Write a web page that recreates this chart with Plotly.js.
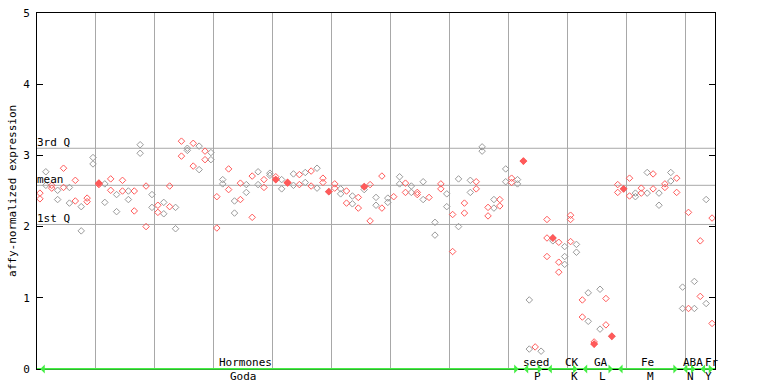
<!DOCTYPE html>
<html>
<head>
<meta charset="utf-8">
<script src="https://cdn.plot.ly/plotly-3.0.1.min.js"></script>
<style>html,body{margin:0;padding:0;background:#fff;}#chart{width:768px;height:384px;}</style>
</head>
<body>
<div id="chart"></div>
<script>
// Replicate values per sample (sample i drawn at position i + 0.5)
const rep1 = [2.47,2.77,2.58,2.51,2.82,2.55,2.65,2.28,2.40,2.97,
  2.61,2.60,2.67,2.45,2.65,2.50,2.50,3.15,2.57,2.45,
  2.30,2.34,2.57,2.27,3.20,3.10,3.17,3.13,3.06,3.04,
  2.42,2.66,2.81,2.36,2.61,2.59,2.71,2.77,2.66,2.75,
  2.70,2.66,2.62,2.74,2.73,2.76,2.78,2.82,2.68,2.49,
  2.60,2.53,2.50,2.43,2.41,2.56,2.59,2.41,2.71,2.40,
  2.42,2.70,2.61,2.57,2.48,2.63,2.41,2.06,2.60,2.46,
  2.17,2.67,2.33,2.65,2.63,3.12,2.27,2.38,2.38,2.81,
  2.68,2.66,2.92,0.97,0.31,0.25,2.10,1.84,1.78,1.72,
  2.16,1.75,0.97,1.07,0.38,1.12,0.99,0.46,2.59,2.53,
  2.68,2.47,2.54,2.76,2.74,2.47,2.60,2.76,2.68,1.15,
  2.20,1.23,1.80,2.38,2.12];
const rep2 = [2.39,2.58,2.54,2.38,2.55,2.33,2.36,1.94,2.35,2.88,
  2.59,2.34,2.51,2.21,2.50,2.38,2.22,3.03,2.00,2.27,
  2.20,2.18,2.28,1.97,2.99,3.07,2.85,2.80,2.94,2.94,
  1.98,2.60,2.52,2.19,2.38,2.48,2.13,2.59,2.55,2.72,
  2.66,2.53,2.61,2.58,2.59,2.62,2.57,2.54,2.62,null,
  2.54,2.46,2.33,2.32,2.26,2.52,2.08,2.30,2.26,2.34,
  null,2.60,2.48,2.48,2.45,2.38,null,1.88,2.53,2.28,
  1.65,2.00,2.19,2.48,2.53,3.06,2.15,2.26,2.29,2.63,
  2.62,2.60,null,0.28,null,null,1.84,1.80,1.50,1.58,
  2.10,1.64,0.73,0.67,0.35,0.56,0.62,null,2.48,null,
  2.43,2.42,2.47,2.47,2.53,2.30,2.55,2.64,2.48,0.85,
  0.85,0.85,1.02,0.92,0.64];
const rep3Idx = [86, 88, 89, 90];
const rep3Val = [1.58, 1.36, 1.47, 1.79];
// Highlighted (filled) points
const hiIdx = [10, 40, 42, 49, 55, 82, 87, 94, 97, 99];
const hiVal = [2.61, 2.66, 2.62, 2.49, 2.56, 2.92, 1.84, 0.35, 0.46, 2.53];
// Summary lines
const q3 = 3.10, meanVal = 2.58, q1 = 2.03;
// Groups along the bottom
const groupTop = ["Hormones","seed","CK","GA","Fe","ABA","Fr"];
const groupBottom = ["Goda","P","K","L","M","N","Y"];
const groupStart = [0, 82, 86, 92, 98, 109, 112];
const groupEnd = [82, 86, 92, 98, 109, 112, 115];
const labelPosTop = [35.3, 84.7, 90.7, 95.6, 103.6, 111.3, 114.5];
const labelPosBottom = [35.0, 84.9, 91.1, 96.0, 104.0, 110.9, 113.9];

const RED = '#ff5a5a', GRAY = '#9a9a9a', GREEN = '#44ee44';
const FONT = 'DejaVu Sans Mono';

const gx = [], gy = [], rx = [], ry = [];
function add(i, v) {
  if (v === null || v === undefined) return;
  if (i % 2 === 0) { rx.push(i + 0.5); ry.push(v); } else { gx.push(i + 0.5); gy.push(v); }
}
for (let i = 0; i < rep1.length; i++) { add(i, rep1[i]); add(i, rep2[i]); }
rep3Idx.forEach((i, k) => add(i, rep3Val[k]));

const mk = (c) => ({symbol: 'diamond-open', size: 5, color: c, line: {width: 1, color: c}});
const traces = [
  {x: gx, y: gy, type: 'scatter', mode: 'markers', marker: mk(GRAY), hoverinfo: 'skip'},
  {x: rx, y: ry, type: 'scatter', mode: 'markers', marker: mk(RED), hoverinfo: 'skip'},
  {x: hiIdx.map(i => i + 0.5), y: hiVal, type: 'scatter', mode: 'markers',
   marker: {symbol: 'diamond', size: 6, color: RED, line: {width: 0}}, hoverinfo: 'skip'}
];

const shapes = [q3, meanVal, q1].map(v => ({type: 'line', xref: 'paper', x0: 0, x1: 1, yref: 'y', y0: v, y1: v,
  line: {color: '#a8a8a8', width: 1}, layer: 'below'}));
shapes.push({type: 'line', xref: 'x', x0: 0, x1: 115, yref: 'y', y0: 0, y1: 0, line: {color: GREEN, width: 2}, layer: 'above'});

const annotations = [];
const qlab = [['3rd Q', q3], ['mean', meanVal], ['1st Q', q1]];
qlab.forEach(([t, v]) => annotations.push({xref: 'paper', x: 0, xanchor: 'left', xshift: -2, yref: 'y', y: v,
  yanchor: 'bottom', yshift: -3, text: t, showarrow: false, font: {family: FONT, size: 11, color: '#000'}}));
annotations.push({xref: 'paper', x: -0.0369, yref: 'paper', y: 0.5, textangle: -90, text: 'affy-normalized expression',
  showarrow: false, xanchor: 'center', yanchor: 'middle', font: {family: FONT, size: 11, color: '#000'}});
for (let g = 0; g < groupTop.length; g++) {
  annotations.push({xref: 'x', x: labelPosTop[g], yref: 'paper', y: 0.086 / 5, text: groupTop[g], showarrow: false,
    xanchor: 'center', yanchor: 'middle', font: {family: FONT, size: 11, color: '#000'}});
  annotations.push({xref: 'x', x: labelPosBottom[g], yref: 'paper', y: -0.104 / 5, text: groupBottom[g], showarrow: false,
    xanchor: 'center', yanchor: 'middle', font: {family: FONT, size: 11, color: '#000'}});
  annotations.push({xref: 'x', x: groupEnd[g] - 0.3, yref: 'y', y: 0, axref: 'x', ax: groupStart[g] + 0.3, ayref: 'y', ay: 0,
    text: '', showarrow: true, arrowhead: 1, arrowside: 'end+start', arrowsize: 1, arrowwidth: 1.5, arrowcolor: GREEN});
}

const layout = {
  width: 768, height: 384,
  margin: {l: 37, r: 53, t: 13, b: 15, pad: 0},
  paper_bgcolor: '#fff', plot_bgcolor: '#fff',
  showlegend: false,
  xaxis: {range: [0, 115], tick0: 0, dtick: 10, showgrid: true, gridcolor: '#a8a8a8', gridwidth: 1,
    zeroline: false, showline: true, mirror: true, linecolor: '#000', linewidth: 1,
    showticklabels: false, ticks: '', fixedrange: true},
  yaxis: {range: [0, 5], tick0: 0, dtick: 1, showgrid: false, zeroline: false, showline: true, mirror: 'ticks',
    linecolor: '#000', linewidth: 1, ticks: 'inside', ticklen: 6, tickcolor: '#000', tickwidth: 1,
    tickfont: {family: FONT, size: 11, color: '#000'}, ticklabelstandoff: 4, fixedrange: true},
  shapes: shapes,
  annotations: annotations,
  font: {family: FONT, size: 11, color: '#000'}
};
Plotly.newPlot('chart', traces, layout, {staticPlot: true, displayModeBar: false});
</script>
</body>
</html>
